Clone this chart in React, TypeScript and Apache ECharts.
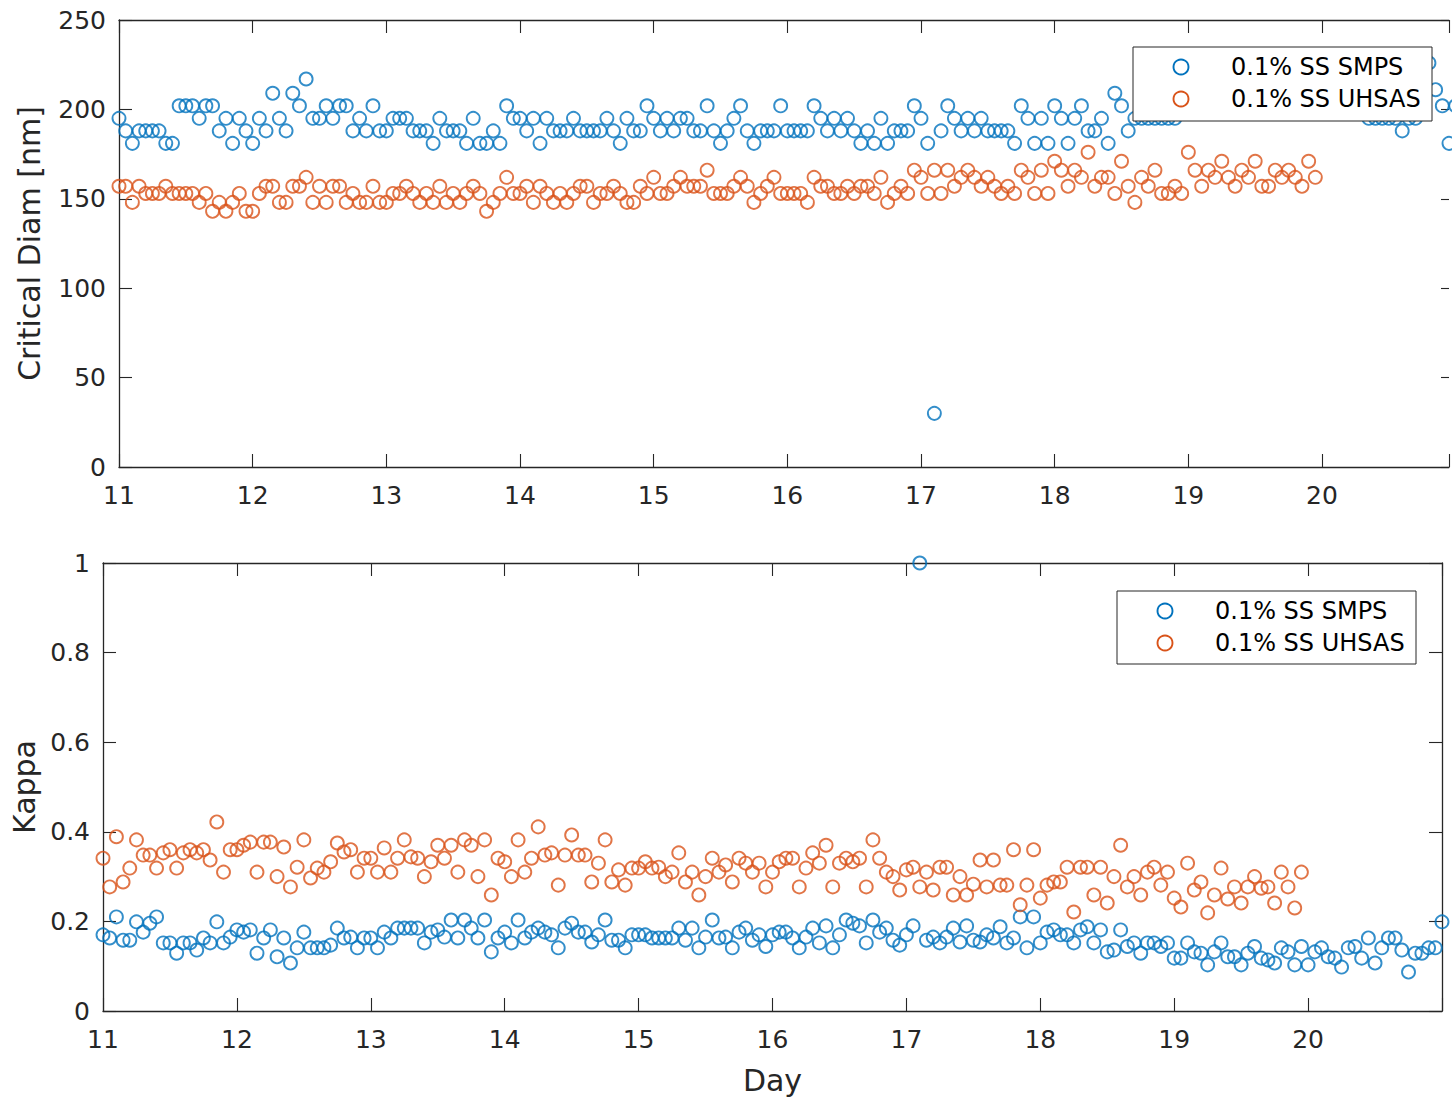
import React, { useEffect, useRef } from "react";
import * as echarts from "echarts";

// ---- data (one sample every 0.05 day, starting at day 11) ----
const START_DAY = 11;
const STEP_DAY = 0.05;

const xTicks = [11, 12, 13, 14, 15, 16, 17, 18, 19, 20];

// Critical diameter [nm], 0.1% SS, SMPS
const diamSmps = [
  195, 188, 181, 188, 188, 188, 188, 181, 181, 202, 202, 202, 195, 202, 202, 188, 195, 181, 195, 188,
  181, 195, 188, 209, 195, 188, 209, 202, 217, 195, 195, 202, 195, 202, 202, 188, 195, 188, 202, 188,
  188, 195, 195, 195, 188, 188, 188, 181, 195, 188, 188, 188, 181, 195, 181, 181, 188, 181, 202, 195,
  195, 188, 195, 181, 195, 188, 188, 188, 195, 188, 188, 188, 188, 195, 188, 181, 195, 188, 188, 202,
  195, 188, 195, 188, 195, 195, 188, 188, 202, 188, 181, 188, 195, 202, 188, 181, 188, 188, 188, 202,
  188, 188, 188, 188, 202, 195, 188, 195, 188, 195, 188, 181, 188, 181, 195, 181, 188, 188, 188, 202,
  195, 181, 30, 188, 202, 195, 188, 195, 188, 195, 188, 188, 188, 188, 181, 202, 195, 181, 195, 181,
  202, 195, 181, 195, 202, 188, 188, 195, 181, 209, 202, 188, 195, 195, 195, 195, 195, 195, 195, 202,
  202, 209, 202, 202, 209, 202, 202, 209, 202, 202, 202, 209, 202, 202, 202, 209, 202, 202, 209, 202,
  202, 209, 202, 202, 202, 209, 202, 195, 195, 195, 195, 195, 188, 195, 195, 202, 226, 211, 202, 181, 202,
];

// Critical diameter [nm], 0.1% SS, UHSAS
const diamUhsas = [
  157, 157, 148, 157, 153, 153, 153, 157, 153, 153, 153, 153, 148, 153, 143, 148, 143, 148, 153, 143,
  143, 153, 157, 157, 148, 148, 157, 157, 162, 148, 157, 148, 157, 157, 148, 153, 148, 148, 157, 148,
  148, 153, 153, 157, 153, 148, 153, 148, 157, 148, 153, 148, 153, 157, 153, 143, 148, 153, 162, 153,
  153, 157, 148, 157, 153, 148, 153, 148, 153, 157, 157, 148, 153, 153, 157, 153, 148, 148, 157, 153,
  162, 153, 153, 157, 162, 157, 157, 157, 166, 153, 153, 153, 157, 162, 157, 148, 153, 157, 162, 153,
  153, 153, 153, 148, 162, 157, 157, 153, 153, 157, 153, 157, 157, 153, 162, 148, 153, 157, 153, 166,
  162, 153, 166, 153, 166, 157, 162, 166, 162, 157, 162, 157, 153, 157, 153, 166, 162, 153, 166, 153,
  171, 166, 157, 166, 162, 176, 157, 162, 162, 153, 171, 157, 148, 162, 157, 166, 153, 153, 157, 153,
  176, 166, 157, 166, 162, 171, 162, 157, 166, 162, 171, 157, 157, 166, 162, 166, 162, 157, 171, 162,
];

// Kappa, 0.1% SS, SMPS
const kappaSmps = [
  0.17, 0.163, 0.21, 0.158, 0.158, 0.199, 0.176, 0.196, 0.21, 0.152, 0.152, 0.129, 0.152, 0.152, 0.136, 0.163, 0.152, 0.199, 0.152, 0.165,
  0.181, 0.176, 0.181, 0.129, 0.163, 0.181, 0.121, 0.163, 0.107, 0.141, 0.176, 0.141, 0.141, 0.141, 0.147, 0.185, 0.163, 0.165, 0.141, 0.163,
  0.163, 0.141, 0.176, 0.163, 0.185, 0.185, 0.185, 0.185, 0.152, 0.176, 0.181, 0.165, 0.203, 0.163, 0.203, 0.185, 0.163, 0.203, 0.132, 0.163,
  0.176, 0.152, 0.203, 0.163, 0.176, 0.185, 0.176, 0.17, 0.141, 0.185, 0.196, 0.176, 0.176, 0.154, 0.17, 0.203, 0.158, 0.158, 0.141, 0.17,
  0.17, 0.17, 0.163, 0.163, 0.163, 0.163, 0.185, 0.158, 0.185, 0.141, 0.165, 0.203, 0.163, 0.165, 0.141, 0.176, 0.185, 0.158, 0.17, 0.144,
  0.17, 0.176, 0.176, 0.163, 0.141, 0.165, 0.185, 0.152, 0.19, 0.141, 0.17, 0.203, 0.196, 0.19, 0.152, 0.203, 0.176, 0.185, 0.158, 0.147,
  0.17, 0.19, 1.0, 0.158, 0.165, 0.152, 0.165, 0.185, 0.154, 0.19, 0.158, 0.154, 0.17, 0.163, 0.188, 0.152, 0.163, 0.21, 0.141, 0.21,
  0.152, 0.176, 0.181, 0.17, 0.17, 0.152, 0.181, 0.188, 0.152, 0.181, 0.132, 0.136, 0.181, 0.144, 0.152, 0.129, 0.152, 0.152, 0.144, 0.152,
  0.118, 0.118, 0.152, 0.132, 0.129, 0.103, 0.132, 0.152, 0.121, 0.121, 0.103, 0.129, 0.144, 0.118, 0.114, 0.107, 0.141, 0.132, 0.103, 0.144,
  0.103, 0.132, 0.141, 0.121, 0.118, 0.098, 0.141, 0.144, 0.118, 0.163, 0.107, 0.141, 0.163, 0.163, 0.136, 0.087, 0.129, 0.129, 0.141, 0.141, 0.199,
];

// Kappa, 0.1% SS, UHSAS
const kappaUhsas = [
  0.341, 0.277, 0.389, 0.288, 0.319, 0.382, 0.348, 0.348, 0.319, 0.353, 0.36, 0.319, 0.353, 0.36, 0.353, 0.36, 0.337, 0.422, 0.31, 0.36,
  0.36, 0.37, 0.377, 0.31, 0.377, 0.377, 0.3, 0.366, 0.277, 0.321, 0.382, 0.297, 0.319, 0.31, 0.333, 0.375, 0.355, 0.36, 0.31, 0.341,
  0.341, 0.31, 0.364, 0.31, 0.341, 0.382, 0.344, 0.341, 0.3, 0.333, 0.37, 0.341, 0.37, 0.31, 0.382, 0.37, 0.3, 0.382, 0.259, 0.341,
  0.333, 0.3, 0.382, 0.31, 0.341, 0.411, 0.348, 0.353, 0.281, 0.348, 0.393, 0.348, 0.348, 0.288, 0.33, 0.382, 0.288, 0.315, 0.281, 0.319,
  0.319, 0.333, 0.319, 0.321, 0.3, 0.31, 0.353, 0.288, 0.31, 0.259, 0.3, 0.341, 0.31, 0.326, 0.288, 0.341, 0.33, 0.31, 0.33, 0.277,
  0.31, 0.333, 0.341, 0.341, 0.277, 0.319, 0.353, 0.33, 0.37, 0.277, 0.33, 0.341, 0.333, 0.341, 0.277, 0.382, 0.341, 0.31, 0.3, 0.27,
  0.315, 0.321, 0.277, 0.31, 0.27, 0.321, 0.321, 0.259, 0.3, 0.259, 0.283, 0.337, 0.277, 0.337, 0.281, 0.281, 0.36, 0.237, 0.281, 0.36,
  0.252, 0.281, 0.288, 0.288, 0.321, 0.221, 0.321, 0.321, 0.259, 0.321, 0.241, 0.3, 0.37, 0.277, 0.3, 0.259, 0.31, 0.321, 0.281, 0.31,
  0.252, 0.232, 0.33, 0.27, 0.288, 0.219, 0.259, 0.319, 0.25, 0.277, 0.241, 0.277, 0.3, 0.274, 0.277, 0.241, 0.31, 0.277, 0.23, 0.31,
];

const SERIES_NAMES = ["0.1% SS SMPS", "0.1% SS UHSAS"];

// ---- styles ----
const BLUE = "#0072BD";
const ORANGE = "#D95319";
const AX = "#262626";
const FONT = "DejaVu Sans";

const toPoints = (vals: number[]) =>
  vals.map((v, i) => [Math.round((START_DAY + i * STEP_DAY) * 1000) / 1000, v]);

function xAxes(grid: number, max: number) {
  const base = {
    gridIndex: grid,
    type: "value" as const,
    min: 11,
    max,
    interval: 1,
    splitLine: { show: false },
    axisLine: { show: true, onZero: false, lineStyle: { color: AX, width: 1.3 } },
    axisTick: { show: true, inside: true, length: 13, lineStyle: { color: AX, width: 1.1 } },
  };
  return [
    {
      ...base,
      position: "bottom",
      name: grid === 1 ? "Day" : "",
      nameLocation: "middle",
      nameGap: 54,
      nameTextStyle: { fontSize: 30, color: AX, fontFamily: FONT },
      axisLabel: {
        show: true,
        fontSize: 25,
        color: AX,
        fontFamily: FONT,
        margin: 16,
        formatter: (v: number) => (xTicks.includes(v) ? String(v) : ""),
      },
    },
    { ...base, position: "top", axisLabel: { show: false } },
  ];
}

function yAxes(grid: number, max: number, interval: number, name: string, gap: number, rightLine: boolean) {
  const base = {
    gridIndex: grid,
    type: "value" as const,
    min: 0,
    max,
    interval,
    splitLine: { show: false },
    axisLine: { show: true, onZero: false, lineStyle: { color: AX, width: 1.3 } },
    axisTick: { show: true, inside: true, length: 13, lineStyle: { color: AX, width: 1.1 } },
  };
  return [
    {
      ...base,
      position: "left",
      name,
      nameLocation: "middle",
      nameGap: gap,
      nameTextStyle: { fontSize: 30, color: AX, fontFamily: FONT },
      axisLabel: { show: true, fontSize: 25, color: AX, fontFamily: FONT, margin: 13 },
    },
    {
      ...base,
      position: "right",
      axisLine: { ...base.axisLine, show: rightLine },
      axisTick: { ...base.axisTick, length: rightLine ? 13 : 8 },
      axisLabel: { show: false },
    },
  ];
}

function scatter(name: string, color: string, vals: number[], grid: number) {
  return {
    name,
    type: "scatter",
    xAxisIndex: grid * 2,
    yAxisIndex: grid * 2,
    data: toPoints(vals),
    symbol: "circle",
    symbolSize: 13,
    clip: false,
    itemStyle: { color: "rgba(0,0,0,0)", borderColor: color, borderWidth: 1.9 },
  };
}

function legendBox(x: number, y: number, w: number, h: number) {
  const mx = x + 48;
  const tx = x + 98;
  const y1 = y + 20;
  const y2 = y + 52;
  return [
    {
      type: "rect",
      z: 100,
      shape: { x, y, width: w, height: h },
      style: { fill: "#ffffff", stroke: AX, lineWidth: 1 },
    },
    { type: "circle", z: 101, shape: { cx: mx, cy: y1, r: 7.5 }, style: { fill: "none", stroke: BLUE, lineWidth: 1.9 } },
    { type: "circle", z: 101, shape: { cx: mx, cy: y2, r: 7.5 }, style: { fill: "none", stroke: ORANGE, lineWidth: 1.9 } },
    {
      type: "text",
      z: 101,
      x: tx,
      y: y1,
      style: { text: SERIES_NAMES[0], fill: "#000", font: `24px "${FONT}"`, verticalAlign: "middle", align: "left" },
    },
    {
      type: "text",
      z: 101,
      x: tx,
      y: y2,
      style: { text: SERIES_NAMES[1], fill: "#000", font: `24px "${FONT}"`, verticalAlign: "middle", align: "left" },
    },
  ];
}

export default function App() {
  const ref = useRef<HTMLDivElement>(null);
  useEffect(() => {
    document.body.style.margin = "0";
    if (!ref.current) return;
    const chart = echarts.init(ref.current, undefined, { renderer: "svg" });
    chart.setOption({
      animation: false,
      backgroundColor: "#ffffff",
      textStyle: { fontFamily: FONT },
      grid: [
        { left: 119, top: 20, width: 1332, height: 447 },
        { left: 103, top: 563, width: 1339, height: 448 },
      ],
      xAxis: [...xAxes(0, 20.95), ...xAxes(1, 21)],
      yAxis: [
        ...yAxes(0, 250, 50, "Critical Diam [nm]", 75, false),
        ...yAxes(1, 1, 0.2, "Kappa", 59, true),
      ],
      series: [
        scatter(SERIES_NAMES[0], BLUE, diamSmps, 0),
        scatter(SERIES_NAMES[1], ORANGE, diamUhsas, 0),
        scatter(SERIES_NAMES[0], BLUE, kappaSmps, 1),
        scatter(SERIES_NAMES[1], ORANGE, kappaUhsas, 1),
      ],
      graphic: [...legendBox(1133, 47, 299, 74), ...legendBox(1117, 591, 299, 73)],
    });
    return () => chart.dispose();
  }, []);
  return <div ref={ref} style={{ width: 1452, height: 1097 }} />;
}
